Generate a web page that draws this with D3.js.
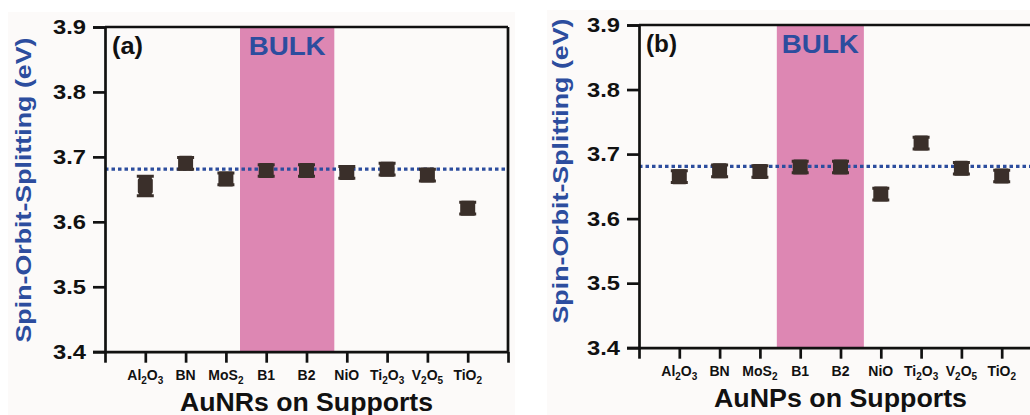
<!DOCTYPE html>
<html>
<head>
<meta charset="utf-8">
<script src="https://cdn.jsdelivr.net/npm/d3@7"></script>
<style>
  body { margin: 0; background: #ffffff; }
  svg text { font-family: "Liberation Sans", Arial, sans-serif; font-weight: bold; }
</style>
</head>
<body>
<div id="chart"></div>
<script>
/**
 * CONSTANTS AND GLOBALS
 * */
const width = 1030,
  height = 415;

// data
const categories = ["Al_2O_3", "BN", "MoS_2", "B1", "B2", "NiO", "Ti_2O_3", "V_2O_5", "TiO_2"];
const nrValues = [3.655, 3.690, 3.666, 3.679, 3.679, 3.676, 3.681, 3.672, 3.621];
const nrErrors = [0.015, 0.009, 0.009, 0.009, 0.009, 0.009, 0.009, 0.009, 0.009];
const npValues = [3.665, 3.674, 3.673, 3.680, 3.680, 3.638, 3.717, 3.678, 3.666];
const npErrors = [0.009, 0.009, 0.009, 0.009, 0.009, 0.009, 0.009, 0.009, 0.009];
const bulkValue = 3.681;
const yTicks = [3.4, 3.5, 3.6, 3.7, 3.8, 3.9];
const xTicks = [0, 1, 2, 3, 4, 5, 6, 7, 8, 9, 10];
const bulkBandA = [3.35, 5.69];
const bulkBandB = [3.42, 5.58];

const blue = "#2c4d9e",
  ink = "#111111",
  markerColor = "#3a2f2a",
  pink = "#dd87b3";

const svg = d3
  .select("#chart")
  .append("svg")
  .attr("width", width)
  .attr("height", height);

// panel backgrounds (the scanned figure is slightly off-white)
svg.append("rect").attr("x", 8).attr("y", 12).attr("width", 507).attr("height", 403).attr("fill", "#fcfaf9");
svg.append("rect").attr("x", 547).attr("y", 10).attr("width", 483).attr("height", 405).attr("fill", "#fcfaf9");

drawPanel({
  values: nrValues,
  errors: nrErrors,
  band: bulkBandA,
  xRange: [105, 508],
  yRange: [351.7, 27],
  tag: "(a)",
  xTitle: "AuNRs on Supports",
  yTitleX: 31,
  yTitleY: 190,
  frameRight: true,
});

drawPanel({
  values: npValues,
  errors: npErrors,
  band: bulkBandB,
  xRange: [639, 1042],
  yRange: [347.7, 25],
  tag: "(b)",
  xTitle: "AuNPs on Supports",
  yTitleX: 568,
  yTitleY: 171,
  frameRight: false,
});

// widen a text to a given pixel length (the original font runs wider than Arial)
function stretch(sel, len) {
  sel.attr("textLength", len).attr("lengthAdjust", "spacingAndGlyphs");
}

function drawPanel(cfg) {
  const xScale = d3.scaleLinear().domain([0, 10]).range(cfg.xRange);
  const yScale = d3.scaleLinear().domain([3.4, 3.9]).range(cfg.yRange);
  const g = svg.append("g");

  // BULK band
  g.append("rect")
    .attr("x", xScale(cfg.band[0]))
    .attr("y", yScale(3.9))
    .attr("width", xScale(cfg.band[1]) - xScale(cfg.band[0]))
    .attr("height", yScale(3.4) - yScale(3.9))
    .attr("fill", pink);

  // bulk reference line
  g.append("line")
    .attr("x1", xScale(0))
    .attr("x2", xScale(10))
    .attr("y1", yScale(bulkValue))
    .attr("y2", yScale(bulkValue))
    .attr("stroke", blue)
    .attr("stroke-width", 3.2)
    .attr("stroke-dasharray", "3.5,3");

  // points with error bars
  const pts = g
    .selectAll("g.pt")
    .data(cfg.values.map((v, i) => ({ x: i + 1, v: v, e: cfg.errors[i] })))
    .join("g")
    .attr("class", "pt");

  pts.append("path")
    .attr("d", d => {
      const x = xScale(d.x), y1 = yScale(d.v - d.e), y2 = yScale(d.v + d.e);
      return `M${x - 8.5},${y1}H${x + 8.5}M${x},${y1}V${y2}M${x - 8.5},${y2}H${x + 8.5}`;
    })
    .attr("stroke", markerColor)
    .attr("stroke-width", 3)
    .attr("fill", "none");

  pts.append("path")
    .attr("d", d => {
      const x = xScale(d.x), y1 = yScale(d.v - d.e), y2 = yScale(d.v + d.e);
      return `M${x},${y1}V${y2}`;
    })
    .attr("stroke", markerColor)
    .attr("stroke-width", 13);

  pts.append("rect")
    .attr("x", d => xScale(d.x) - 7.5)
    .attr("y", d => yScale(d.v) - 7.5)
    .attr("width", 15)
    .attr("height", 15)
    .attr("rx", 1.5)
    .attr("fill", markerColor);

  // y axis
  const yAxis = d3.axisLeft(yScale).tickValues(yTicks).tickFormat(d3.format(".1f")).tickSize(12).tickPadding(7);
  const ya = g.append("g")
    .attr("transform", `translate(${xScale(0)},0)`)
    .call(yAxis);
  ya.select(".domain").attr("stroke", ink).attr("stroke-width", 2.7);
  ya.selectAll(".tick line").attr("stroke", ink).attr("stroke-width", 2.7);
  ya.selectAll(".tick text").attr("fill", ink).style("font-size", "21px").call(stretch, 33);

  // x axis
  const xAxis = d3.axisBottom(xScale).tickValues(xTicks).tickFormat("").tickSize(11).tickSizeOuter(0);
  const xa = g.append("g")
    .attr("transform", `translate(0,${yScale(3.4)})`)
    .call(xAxis);
  xa.selectAll(".tick text").remove();
  xa.select(".domain").attr("stroke", ink).attr("stroke-width", 2.7);
  xa.selectAll(".tick line").attr("stroke", ink).attr("stroke-width", 2.7);

  // category labels with subscripts
  categories.forEach((c, i) => {
    const t = g.append("text")
      .attr("x", xScale(i + 1))
      .attr("y", yScale(3.4) + 28)
      .attr("text-anchor", "middle")
      .attr("fill", ink)
      .style("font-size", "14px");
    let shift = 0;
    c.split(/(_\d)/).filter(s => s !== "").forEach(s => {
      if (s[0] === "_") {
        t.append("tspan").attr("dy", 4 - shift).style("font-size", "10px").text(s.slice(1));
        shift = 4;
      } else {
        t.append("tspan").attr("dy", -shift).text(s);
        shift = 0;
      }
    });
  });

  // frame top / right
  g.append("line")
    .attr("x1", xScale(0)).attr("x2", xScale(10))
    .attr("y1", yScale(3.9)).attr("y2", yScale(3.9))
    .attr("stroke", ink).attr("stroke-width", 2.7);
  if (cfg.frameRight) {
    g.append("line")
      .attr("x1", xScale(10)).attr("x2", xScale(10))
      .attr("y1", yScale(3.9)).attr("y2", yScale(3.4))
      .attr("stroke", ink).attr("stroke-width", 2.7);
  }

  // labels
  g.append("text")
    .attr("x", xScale(0) + 7)
    .attr("y", yScale(3.9) + 27)
    .attr("fill", ink)
    .style("font-size", "23px")
    .text(cfg.tag)
    .call(stretch, 31);

  g.append("text")
    .attr("x", (xScale(cfg.band[0]) + xScale(cfg.band[1])) / 2)
    .attr("y", yScale(3.9) + 28)
    .attr("text-anchor", "middle")
    .attr("fill", blue)
    .style("font-size", "25px")
    .text("BULK")
    .call(stretch, 77);

  g.append("text")
    .attr("x", (xScale(0) + xScale(10)) / 2)
    .attr("y", yScale(3.4) + 59)
    .attr("text-anchor", "middle")
    .attr("fill", ink)
    .style("font-size", "25px")
    .text(cfg.xTitle)
    .call(stretch, 253);

  g.append("text")
    .attr("transform", `translate(${cfg.yTitleX},${cfg.yTitleY}) rotate(-90)`)
    .attr("text-anchor", "middle")
    .attr("fill", blue)
    .style("font-size", "22px")
    .text("Spin-Orbit-Splitting (eV)")
    .call(stretch, 305);
}
</script>
</body>
</html>
